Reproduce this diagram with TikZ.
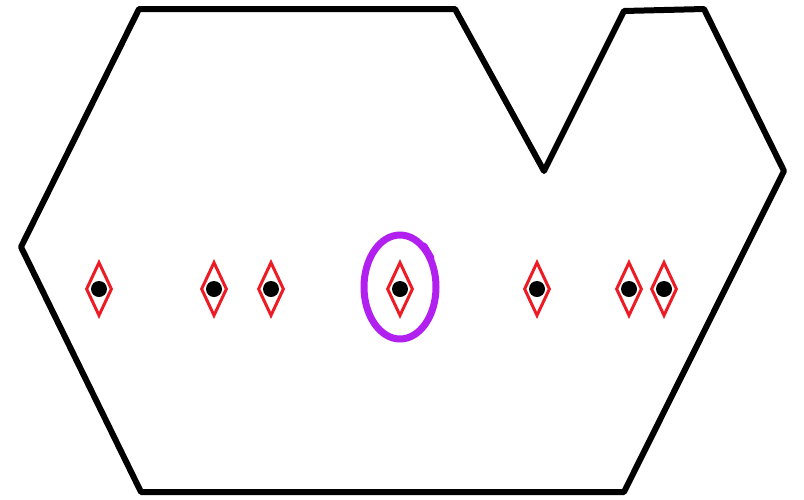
\documentclass[tikz,border=0pt]{standalone}
\usetikzlibrary{shapes.geometric}
\definecolor{gemred}{RGB}{237,28,36}
\definecolor{ringpurple}{RGB}{178,32,240}
\begin{document}
\begin{tikzpicture}[%
    x=1pt,y=-1pt,%
    outline/.style={draw,black,line width=6pt,line join=round,line cap=round},%
    gem/.style={draw=gemred,line width=3pt,diamond,inner sep=0pt,%
        minimum width=26pt,minimum height=54pt},%
    dot/.style={fill=black,circle,inner sep=0pt,minimum size=16pt},%
    ring/.style={draw=ringpurple,line width=7pt},%
]%
    \useasboundingbox (0,0) rectangle (804,499);
    \pgfmathsetmacro{\rowy}{289}

    % outer boundary
    \path[outline] (139,9) -- (455,9) -- (544,171) -- (624,11) -- (704,9)
        -- (784,171) -- (624,492) -- (141,492) -- (21,247) -- cycle;

    % diamonds with dots
    \foreach \gx [count=\i] in {99,214,271,400,537,629,664}{%
        \node[gem] (g\i) at (\gx,\rowy) {};
        \node[dot] (d\i) at (g\i.center) {};
    }

    % marked one
    \draw[ring] (g4.center) ++(0,-2) ellipse[x radius=36, y radius=52];
    \draw[ring,line cap=round] (424,246) -- (431,258);
\end{tikzpicture}
\end{document}
